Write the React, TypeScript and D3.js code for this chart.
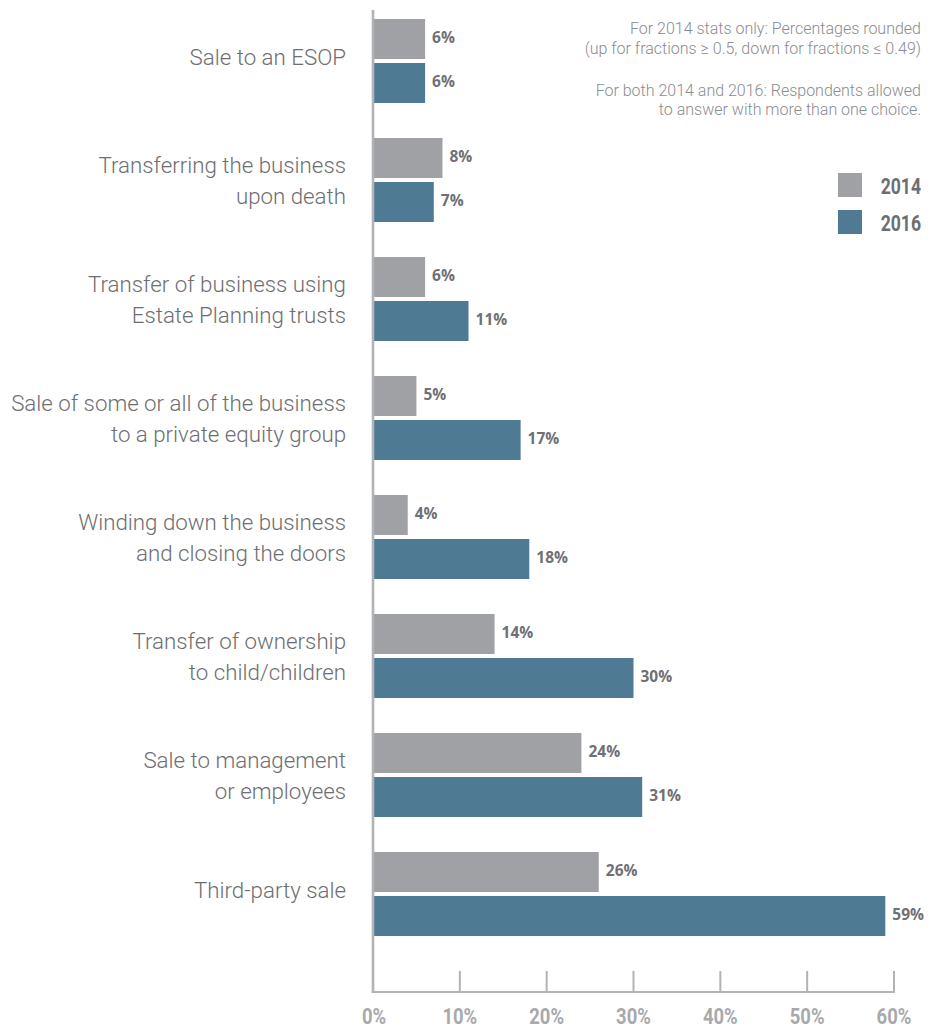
import React from "react";
import * as d3 from "d3";

const categories: string[][] = [
  ["Sale to an ESOP"],
  ["Transferring the business", "upon death"],
  ["Transfer of business using", "Estate Planning trusts"],
  ["Sale of some or all of the business", "to a private equity group"],
  ["Winding down the business", "and closing the doors"],
  ["Transfer of ownership", "to child/children"],
  ["Sale to management", "or employees"],
  ["Third-party sale"],
];
const series = ["2014", "2016"];
const values2014 = [6, 8, 6, 5, 4, 14, 24, 26];
const values2016 = [6, 7, 11, 17, 18, 30, 31, 59];
const xTicks = [0, 10, 20, 30, 40, 50, 60];
const notes = [
  "For 2014 stats only: Percentages rounded",
  "(up for fractions \u2265 0.5, down for fractions \u2264 0.49)",
  "For both 2014 and 2016: Respondents allowed",
  "to answer with more than one choice.",
];
const colors = ["#a0a1a5", "#4f7a94"];

export default function App() {
  const W = 928;
  const H = 1028;
  const x = d3.scaleLinear().domain([0, 60]).range([373, 894]);
  const keys = categories.map((_, i) => String(i));
  const y = d3
    .scaleBand()
    .domain(keys)
    .range([19, 936])
    .paddingInner(35 / 119)
    .paddingOuter(0);
  const ySub = d3
    .scaleBand()
    .domain(series)
    .range([0, y.bandwidth()])
    .paddingInner(4 / 44);
  const data = [values2014, values2016];
  const labelColor = "#6d6e71";
  const axisColor = "#b1b3b6";
  const baseY = 992;
  const noteY = [34, 53.5, 96, 115];

  return (
    <svg
      width={W}
      height={H}
      style={{ position: "absolute", left: 0, top: 0, background: "#fff" }}
    >
      {/* category labels */}
      {categories.map((lines, i) => {
        const cy = (y(String(i)) as number) + y.bandwidth() / 2;
        const lh = 31;
        const first = cy + 3.5 - (lines.length - 1) * 10.5;
        return (
          <text
            key={"c" + i}
            textAnchor="end"
            fontFamily="Roboto, 'Open Sans', sans-serif"
            fontWeight={300}
            fontSize={22.3}
            fill={labelColor}
          >
            {lines.map((l, j) => (
              <tspan key={j} x={346} y={first + j * lh}>
                {l}
              </tspan>
            ))}
          </text>
        );
      })}

      {/* bars */}
      {categories.map((_, i) =>
        series.map((s, k) => {
          const v = data[k][i];
          const by = (y(String(i)) as number) + (ySub(s) as number);
          return (
            <g key={"b" + i + s}>
              <rect
                x={x(0)}
                y={by}
                width={x(v) - x(0)}
                height={ySub.bandwidth()}
                fill={colors[k]}
              />
              <text
                x={x(v) + 7}
                y={by + ySub.bandwidth() / 2 + 3.5}
                fontFamily="'Open Sans', sans-serif"
                fontWeight={700}
                fontSize={15.5}
                fill="#6f7176"
              >
                {v}%
              </text>
            </g>
          );
        })
      )}

      {/* axes */}
      <line x1={x(0)} x2={x(0)} y1={10} y2={baseY + 1} stroke={axisColor} strokeWidth={2.6} />
      <line x1={x(0) - 1.3} x2={x(60) + 1} y1={baseY} y2={baseY} stroke={axisColor} strokeWidth={2} />
      {xTicks.map((t) => (
        <g key={"t" + t}>
          {t > 0 && (
            <line x1={x(t)} x2={x(t)} y1={971} y2={baseY} stroke={axisColor} strokeWidth={2} />
          )}
          <text
            transform={`translate(${x(t) + (t === 0 ? 1 : 0)},1024) scale(0.82,1)`}
            textAnchor="middle"
            fontFamily="Roboto, sans-serif"
            fontWeight={700}
            fontSize={22.5}
            fill="#a7a9ac"
          >
            {t}%
          </text>
        </g>
      ))}

      {/* notes */}
      {notes.map((n, i) => (
        <text
          key={"n" + i}
          x={921}
          y={noteY[i]}
          textAnchor="end"
          fontFamily="Roboto, sans-serif"
          fontWeight={300}
          fontSize={16}
          fill="#8a8c8f"
        >
          {n}
        </text>
      ))}

      {/* legend */}
      {series.map((s, k) => (
        <g key={"l" + s}>
          <rect x={838} y={173 + k * 37} width={24} height={24} fill={colors[k]} />
          <text
            transform={`translate(921,${193.5 + k * 37}) scale(0.8,1)`}
            textAnchor="end"
            fontFamily="Roboto, sans-serif"
            fontWeight={700}
            fontSize={22}
            fill={labelColor}
          >
            {s}
          </text>
        </g>
      ))}
    </svg>
  );
}
